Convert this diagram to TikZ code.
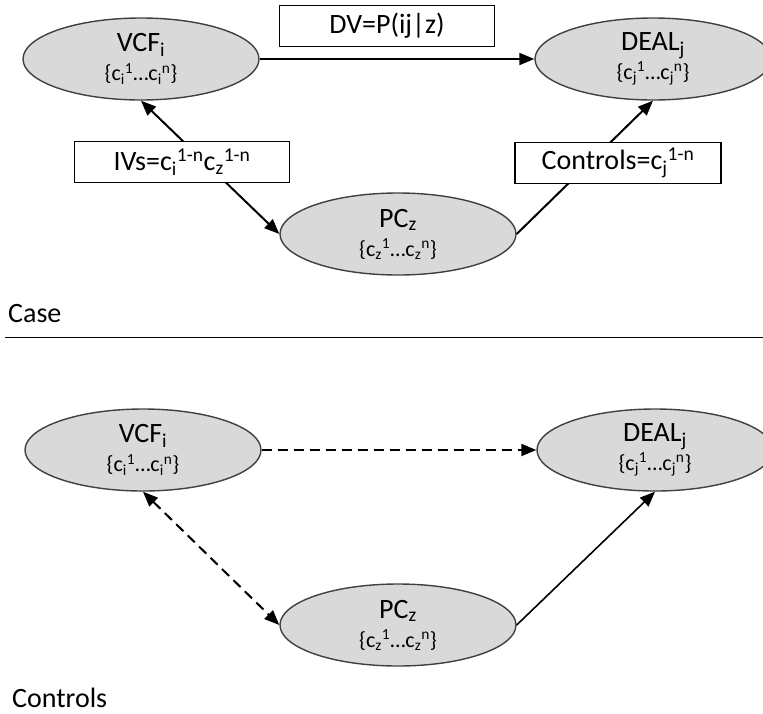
\documentclass[tikz,border=0pt]{standalone}
\usepackage{fontspec}
\setmainfont{Carlito}
\usetikzlibrary{shapes.geometric,arrows.meta}

\newcommand{\sets}[1]{{\fontsize{22}{24}\selectfont\{c\textsubscript{#1}\textsuperscript{1}\dots c\textsubscript{#1}\textsuperscript{n}\}}}

\begin{document}
\begin{tikzpicture}[x=1pt, y=-1pt]
		\tikzset{oval/.style={ellipse, draw=black!75, line width=1.4pt, fill=black!15, minimum width=236pt, minimum height=82pt, inner sep=0pt, align=center, font=\fontsize{28}{30}\selectfont},
		kasten/.style={rectangle, draw=black, line width=1.2pt, fill=white, minimum height=41pt, inner sep=0pt, font=\fontsize{28}{30}\selectfont},
		pfeil/.style={line width=2pt, -{Triangle[length=15pt, width=12pt]}},
		beide/.style={line width=2pt, {Triangle[length=15pt, width=12pt]}-{Triangle[length=15pt, width=12pt]}}}
		\useasboundingbox (0,0) rectangle (763,713);

        % Case
        \node[oval] at (141, 59) (v1) {VCF\textsubscript{i}\\[-1pt]\sets{i}};
        \node[oval] at (653, 59) (d1) {DEAL\textsubscript{j}\\[-1pt]\sets{j}};
        \node[oval] at (398, 234) (p1) {PC\textsubscript{z}\\[-1pt]\sets{z}};

			\draw [pfeil] (v1.east) -- (d1.west);
			\draw [beide] (v1.south) -- (p1.west);
			\draw [pfeil] (p1.east) -- (d1.south);

        \node[kasten, minimum width=215pt] at (387, 26) (dv) {DV=P(ij|z)};
        \node[kasten, minimum width=215pt] at (182, 162) (iv) {IVs=c\textsubscript{i}\textsuperscript{1-n}c\textsubscript{z}\textsuperscript{1-n}};
        \node[kasten, minimum width=206pt] at (618, 163) (ctl) {Controls=c\textsubscript{j}\textsuperscript{1-n}};

        \node[anchor=base west, inner sep=0pt, font=\fontsize{28}{30}\selectfont] at (8, 322) (case) {Case};
			\draw [line width=1pt] (5, 337) -- (763, 337);

        % Controls
        \node[oval] at (143, 450) (v2) {VCF\textsubscript{i}\\[-1pt]\sets{i}};
        \node[oval] at (655, 450) (d2) {DEAL\textsubscript{j}\\[-1pt]\sets{j}};
        \node[oval] at (398, 625) (p2) {PC\textsubscript{z}\\[-1pt]\sets{z}};

			\draw [pfeil, dash pattern=on 10pt off 6pt] (v2.east) -- (d2.west);
			\draw [beide, dash pattern=on 10pt off 6pt] (v2.south) -- (p2.west);
			\draw [pfeil, line width=1.6pt] (p2.east) -- (d2.south);

        \node[anchor=base west, inner sep=0pt, font=\fontsize{28}{30}\selectfont] at (12, 707) (ctrl) {Controls};

	\end{tikzpicture}
\end{document}
